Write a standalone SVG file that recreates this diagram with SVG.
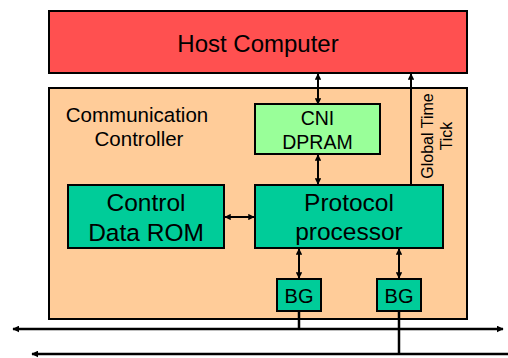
<svg xmlns="http://www.w3.org/2000/svg" width="508" height="358" viewBox="0 0 508 358">
  <style>
    .box { stroke: #000; stroke-width: 2; }
    .host { fill: #FF5050; }
    .ctrl { fill: #FFCC99; }
    .dpram { fill: #99FF99; }
    .unit { fill: #00CC99; }
    .lbl { font-family: "Liberation Sans", Arial, sans-serif; fill: #000; text-anchor: middle; }
    .link { stroke: #000; stroke-width: 2; fill: none; }
    .bus { stroke: #000; stroke-width: 2.5; fill: none; }
  </style>
  <defs>
    <marker id="head" viewBox="0 0 10 10" refX="9" refY="5" markerWidth="3.2" markerHeight="3.2" markerUnits="strokeWidth" orient="auto-start-reverse">
      <path d="M0,0 L10,5 L0,10 z" fill="#000"/>
    </marker>
    <marker id="busHead" viewBox="0 0 10 10" refX="9" refY="5" markerWidth="2.8" markerHeight="2.8" markerUnits="strokeWidth" orient="auto-start-reverse">
      <path d="M0,0 L10,5 L0,10 z" fill="#000"/>
    </marker>
  </defs>

  <g id="host-computer">
    <rect class="box host" x="49" y="11" width="418" height="62"/>
    <text class="lbl" x="258" y="52" font-size="24">Host Computer</text>
  </g>

  <g id="communication-controller">
    <rect class="box ctrl" x="49" y="88" width="418" height="231"/>
    <text class="lbl" x="137" y="122" font-size="20.5">Communication</text>
    <text class="lbl" x="139" y="146" font-size="20.5">Controller</text>
  </g>

  <g id="cni-dpram">
    <rect class="box dpram" x="255" y="104" width="125" height="50"/>
    <text class="lbl" x="317.5" y="125" font-size="19.5">CNI</text>
    <text class="lbl" x="317.5" y="149" font-size="19.5">DPRAM</text>
  </g>

  <g id="control-data-rom">
    <rect class="box unit" x="68" y="185" width="156" height="63"/>
    <text class="lbl" x="146" y="211" font-size="24.5">Control</text>
    <text class="lbl" x="146" y="241" font-size="24.5">Data ROM</text>
  </g>

  <g id="protocol-processor">
    <rect class="box unit" x="255" y="185" width="188" height="63"/>
    <text class="lbl" x="349" y="211" font-size="24.5">Protocol</text>
    <text class="lbl" x="349" y="240" font-size="24.5">processor</text>
  </g>

  <g id="bg-1">
    <rect class="box unit" x="277" y="279" width="44" height="32"/>
    <text class="lbl" x="299" y="303" font-size="20">BG</text>
  </g>

  <g id="bg-2">
    <rect class="box unit" x="377" y="279" width="44" height="32"/>
    <text class="lbl" x="399" y="303" font-size="20">BG</text>
  </g>

  <g id="global-time-tick-label">
    <text class="lbl" font-size="16" transform="translate(432.5,136) rotate(-90)">Global Time</text>
    <text class="lbl" font-size="16" transform="translate(452,136) rotate(-90)">Tick</text>
  </g>

  <g id="connectors">
    <line class="link" x1="318" y1="104" x2="318" y2="74" marker-start="url(#head)" marker-end="url(#head)"/>
    <line class="link" x1="318" y1="184" x2="318" y2="155" marker-start="url(#head)" marker-end="url(#head)"/>
    <line class="link" x1="411" y1="185" x2="411" y2="74" marker-end="url(#head)"/>
    <line class="link" x1="225" y1="217" x2="254" y2="217" marker-start="url(#head)" marker-end="url(#head)"/>
    <line class="link" x1="299" y1="249" x2="299" y2="278" marker-start="url(#head)" marker-end="url(#head)"/>
    <line class="link" x1="399" y1="249" x2="399" y2="278" marker-start="url(#head)" marker-end="url(#head)"/>
    <line class="bus" x1="299" y1="311" x2="299" y2="329"/>
    <line class="bus" x1="399" y1="311" x2="399" y2="354"/>
    <line class="bus" x1="13" y1="329" x2="503" y2="329" marker-start="url(#busHead)" marker-end="url(#busHead)"/>
    <line class="bus" x1="510" y1="354" x2="32" y2="354" marker-end="url(#busHead)"/>
  </g>
</svg>
